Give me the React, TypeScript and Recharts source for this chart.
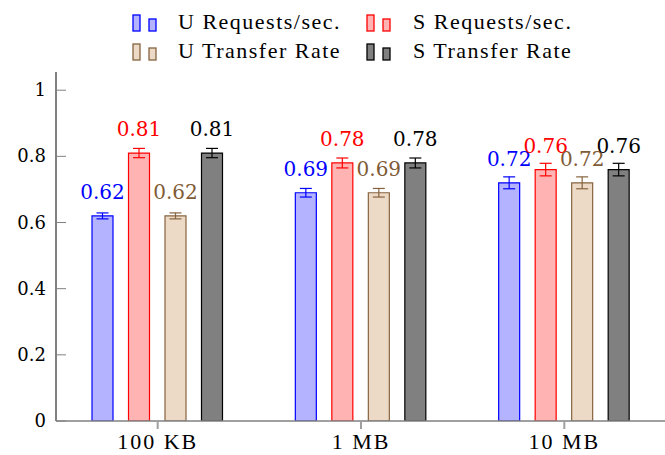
import React from 'react';
import { BarChart, Bar, XAxis, YAxis, ErrorBar, LabelList, Legend } from 'recharts';

const categories = ['100 KB', '1 MB', '10 MB'];
const uRequests = [0.62, 0.69, 0.72];
const sRequests = [0.81, 0.78, 0.76];
const uTransfer = [0.62, 0.69, 0.72];
const sTransfer = [0.81, 0.78, 0.76];
const uRequestsErr = [0.009, 0.013, 0.018];
const sRequestsErr = [0.014, 0.015, 0.019];
const uTransferErr = [0.009, 0.013, 0.018];
const sTransferErr = [0.014, 0.015, 0.019];
const yTicks = [0, 0.2, 0.4, 0.6, 0.8, 1];

const seriesNames = ['U Requests/sec.', 'S Requests/sec.', 'U Transfer Rate', 'S Transfer Rate'];

const data = categories.map((c, i) => ({
  name: c,
  ur: uRequests[i],
  sr: sRequests[i],
  ut: uTransfer[i],
  st: sTransfer[i],
  urE: uRequestsErr[i],
  srE: sRequestsErr[i],
  utE: uTransferErr[i],
  stE: sTransferErr[i],
}));

const series = [
  { key: 'ur', err: 'urE', name: seriesNames[0], fill: '#b3b3ff', stroke: '#0000ff', text: '#0000ff' },
  { key: 'sr', err: 'srE', name: seriesNames[1], fill: '#ffb3b3', stroke: '#ff0000', text: '#ff0000' },
  { key: 'ut', err: 'utE', name: seriesNames[2], fill: '#ecdac6', stroke: '#86633f', text: '#7f5b36' },
  { key: 'st', err: 'stE', name: seriesNames[3], fill: '#808080', stroke: '#000000', text: '#000000' },
];

const NUM_FONT = 'DejaVu Serif';
const TEXT_FONT = 'Liberation Serif';

const YTick = (props: any) => {
  const { x, y, payload } = props;
  return (
    <g>
      <line x1={x} y1={y} x2={x + 10} y2={y} stroke="#808080" strokeWidth={1} />
      <text x={x - 10} y={y} dy={6} textAnchor="end" style={{ fontFamily: NUM_FONT, fontSize: 18 }} fill="#000">
        {String(payload.value)}
      </text>
    </g>
  );
};

const XTick = (props: any) => {
  const { x, y, payload } = props;
  return (
    <g>
      <line x1={x} y1={y} x2={x} y2={y + 8} stroke="#a0a0a0" strokeWidth={2} />
      <text x={x} y={y + 28} textAnchor="middle" style={{ fontFamily: TEXT_FONT, fontSize: 22, letterSpacing: 2 }} fill="#000">
        {payload.value}
      </text>
    </g>
  );
};

const makeLabel = (color: string) => (props: any) => {
  const { x, y, width, value } = props;
  return (
    <text x={x + width / 2} y={y - 17} textAnchor="middle" style={{ fontFamily: NUM_FONT, fontSize: 20 }} fill={color}>
      {String(value)}
    </text>
  );
};

const LegendIcon = ({ fill, stroke }: { fill: string; stroke: string }) => (
  <svg width={26} height={19} style={{ display: 'block' }}>
    <rect x={1} y={1} width={7} height={16} fill={fill} stroke={stroke} strokeWidth={1.3} />
    <rect x={17} y={5} width={7} height={12} fill={fill} stroke={stroke} strokeWidth={1.3} />
  </svg>
);

const renderLegend = () => {
  const cols = [
    [series[0], series[2]],
    [series[1], series[3]],
  ];
  const colLeft = [132, 366];
  return (
    <div style={{ position: 'relative', width: 665, height: 64 }}>
      {cols.map((col, ci) =>
        col.map((s, ri) => (
          <div
            key={s.key}
            style={{
              position: 'absolute',
              left: colLeft[ci],
              top: 11 + ri * 29,
              display: 'flex',
              alignItems: 'flex-end',
              height: 22,
            }}
          >
            <LegendIcon fill={s.fill} stroke={s.stroke} />
            <span
              style={{
                marginLeft: ci === 0 ? 20 : 21,
                fontFamily: TEXT_FONT,
                fontSize: 22,
                letterSpacing: 1.5,
                lineHeight: '22px',
                color: '#000',
                whiteSpace: 'nowrap',
              }}
            >
              {s.name}
            </span>
          </div>
        ))
      )}
    </div>
  );
};

export default function App() {
  return (
    <div style={{ position: 'absolute', left: 0, top: 0, width: 665, height: 455, background: '#fff', fontFamily: TEXT_FONT }}>
      <BarChart
        width={665}
        height={455}
        data={data}
        margin={{ top: 8, right: -1, bottom: 0, left: 0 }}
        barSize={21}
        barGap={15.5}
      >
        <Legend verticalAlign="top" align="left" content={renderLegend} wrapperStyle={{ top: 0, left: 0 }} />
        <XAxis
          dataKey="name"
          height={34}
          axisLine={{ stroke: '#808080', strokeWidth: 1.5 }}
          tickLine={false}
          tickSize={0}
          tickMargin={0}
          tick={<XTick />}
          interval={0}
        />
        <YAxis
          width={56}
          domain={[0, 1.055]}
          ticks={yTicks}
          allowDataOverflow
          axisLine={{ stroke: '#808080', strokeWidth: 2 }}
          tickLine={false}
          tickSize={0}
          tickMargin={0}
          tick={<YTick />}
        />
        {series.map((s) => (
          <Bar
            key={s.key}
            dataKey={s.key}
            name={s.name}
            fill={s.fill}
            stroke={s.stroke}
            strokeWidth={1.2}
            isAnimationActive={false}
          >
            <ErrorBar dataKey={s.err} width={6} stroke={s.stroke} strokeWidth={1.2} direction="y" />
            <LabelList dataKey={s.key} content={makeLabel(s.text)} />
          </Bar>
        ))}
      </BarChart>
    </div>
  );
}
